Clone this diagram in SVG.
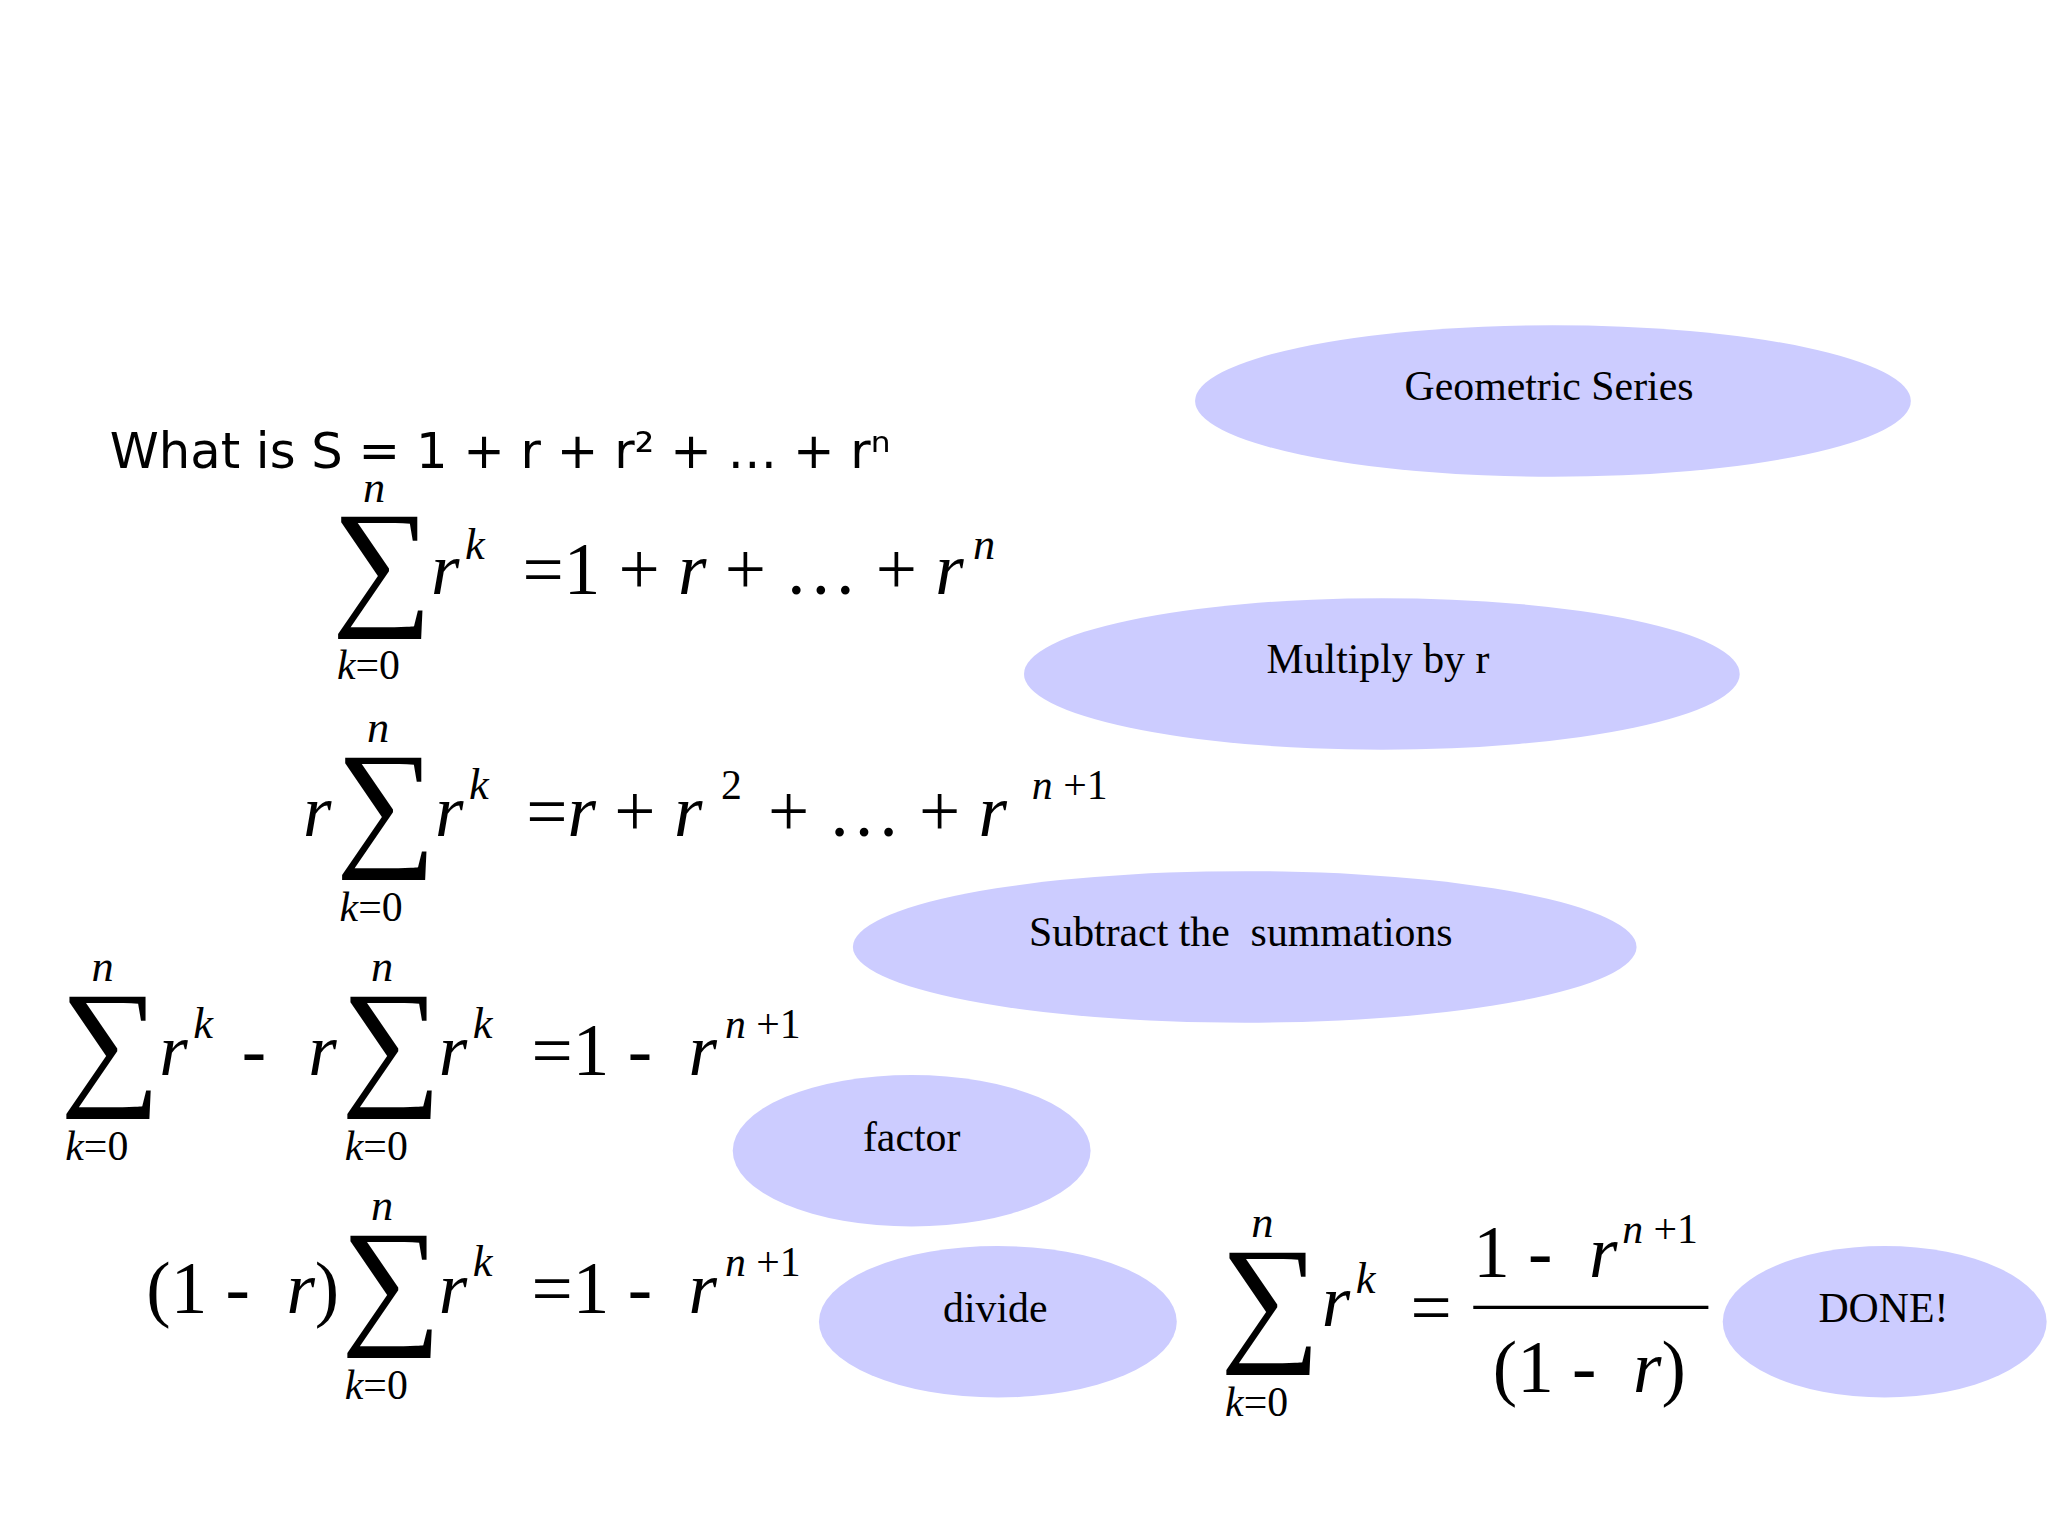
<svg xmlns="http://www.w3.org/2000/svg" width="2048" height="1536" viewBox="0 0 2048 1536">
<style>
.e{fill:#ccccff}
.l{font-family:"Liberation Serif",serif;font-size:32px;fill:#000}
.m{font-family:"Liberation Serif",serif;font-size:56px;fill:#000}
.i{font-style:italic}
.s{font-family:"Liberation Serif",serif;font-size:34px;font-style:italic}
.sg{font-family:"Liberation Serif",serif;font-size:108px}
.sm{font-family:"Liberation Serif",serif;font-size:32px}
</style>
<rect width="2048" height="1536" fill="#fff"/>
<g transform="scale(1.3061)">
<g id="n1"><ellipse class="e" cx="1189" cy="307" rx="274" ry="58"/><text class="l" x="1186" y="306" text-anchor="middle">Geometric Series</text></g>
<g id="n2"><ellipse class="e" cx="1058" cy="516" rx="274" ry="58"/><text class="l" x="1055" y="515" text-anchor="middle">Multiply by r</text></g>
<g id="n3"><ellipse class="e" cx="953" cy="725" rx="300" ry="58"/><text class="l" x="950" y="724" text-anchor="middle" xml:space="preserve">Subtract the  summations</text></g>
<g id="n4"><ellipse class="e" cx="698" cy="881" rx="137" ry="58"/><text class="l" x="698" y="881" text-anchor="middle">factor</text></g>
<g id="n5"><ellipse class="e" cx="764" cy="1012" rx="137" ry="58"/><text class="l" x="762" y="1012" text-anchor="middle">divide</text></g>
<g id="n6"><ellipse class="e" cx="1443" cy="1012" rx="124" ry="58"/><text class="l" x="1442" y="1012" text-anchor="middle">DONE!</text></g>
<g id="connectors"></g>
<text x="84" y="358" font-family="DejaVu Sans,sans-serif" font-size="38">What is S = 1 + r + r² + … + rⁿ</text>
<!-- row1 -->
<text class="s" x="278" y="384">n</text>
<text class="sg" x="254" y="466">∑</text>
<text class="sm" x="258" y="520"><tspan class="i">k</tspan>=0</text>
<text class="m i" x="330" y="455">r</text><text class="s" x="356" y="428">k</text>
<text class="m" x="400" y="455" xml:space="preserve">=1 + <tspan class="i">r</tspan> + … + <tspan class="i">r</tspan></text><text class="s" x="745" y="428">n</text>
<!-- row2 -->
<text class="m i" x="232" y="640">r</text>
<text class="s" x="281" y="568">n</text>
<text class="sg" x="257" y="651">∑</text>
<text class="sm" x="260" y="705"><tspan class="i">k</tspan>=0</text>
<text class="m i" x="333" y="640">r</text><text class="s" x="359" y="612">k</text>
<text class="m" x="403" y="640" xml:space="preserve">=<tspan class="i">r</tspan> + <tspan class="i">r</tspan></text><text class="sm" x="552" y="612">2</text>
<text class="m" x="588" y="640" xml:space="preserve">+ … + <tspan class="i">r</tspan></text><text class="sm" x="790" y="612"><tspan class="i">n</tspan> +1</text>
<!-- row3 -->
<text class="s" x="70" y="751">n</text>
<text class="sg" x="46" y="834">∑</text>
<text class="sm" x="50" y="888"><tspan class="i">k</tspan>=0</text>
<text class="m i" x="122" y="823">r</text><text class="s" x="148" y="795">k</text>
<text class="m" x="185" y="823">-</text>
<text class="m i" x="236" y="823">r</text>
<text class="s" x="284" y="751">n</text>
<text class="sg" x="261" y="834">∑</text>
<text class="sm" x="264" y="888"><tspan class="i">k</tspan>=0</text>
<text class="m i" x="336" y="823">r</text><text class="s" x="362" y="795">k</text>
<text class="m" x="407" y="823" xml:space="preserve">=1 -  <tspan class="i">r</tspan></text><text class="sm" x="555" y="795"><tspan class="i">n</tspan> +1</text>
<!-- row4 -->
<text class="m" x="112" y="1005" xml:space="preserve">(1 -  <tspan class="i">r</tspan>)</text>
<text class="s" x="284" y="934">n</text>
<text class="sg" x="261" y="1017">∑</text>
<text class="sm" x="264" y="1071"><tspan class="i">k</tspan>=0</text>
<text class="m i" x="336" y="1005">r</text><text class="s" x="362" y="977">k</text>
<text class="m" x="407" y="1005" xml:space="preserve">=1 -  <tspan class="i">r</tspan></text><text class="sm" x="555" y="977"><tspan class="i">n</tspan> +1</text>
<!-- row5 -->
<text class="s" x="958" y="947">n</text>
<text class="sg" x="934" y="1030">∑</text>
<text class="sm" x="938" y="1084"><tspan class="i">k</tspan>=0</text>
<text class="m i" x="1012" y="1015">r</text><text class="s" x="1038" y="990">k</text>
<text class="m" x="1080" y="1020">=</text>
<text class="m" x="1128" y="978" xml:space="preserve">1 -  <tspan class="i">r</tspan></text><text class="sm" x="1242" y="952"><tspan class="i">n</tspan> +1</text>
<line x1="1128" y1="1001" x2="1308" y2="1001" stroke="#000" stroke-width="2.5"/>
<text class="m" x="1143" y="1066" xml:space="preserve">(1 -  <tspan class="i">r</tspan>)</text>
</g>
</svg>
